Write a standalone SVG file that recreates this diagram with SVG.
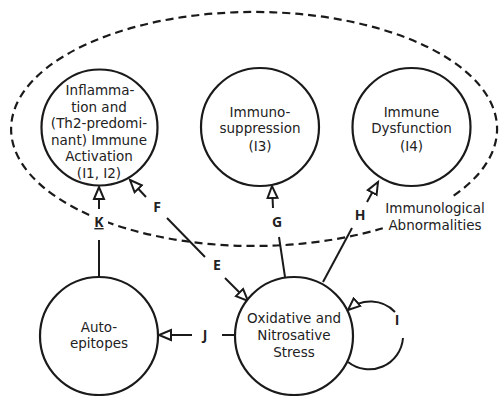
<svg xmlns="http://www.w3.org/2000/svg" width="499" height="396" viewBox="0 0 499 396">
<defs>
<marker id="tri" markerUnits="userSpaceOnUse" markerWidth="16" markerHeight="14" refX="13" refY="6" orient="auto" viewBox="0 0 16 12">
<path d="M1,1 L13,6 L1,11 Z" fill="#fff" stroke="#1a1a1a" stroke-width="2" stroke-linejoin="miter"/>
</marker>
<style>
.node{fill:#fff;stroke:#1a1a1a;stroke-width:2.2}
.t{font-family:"DejaVu Sans","Open Sans",sans-serif;font-size:13.5px;fill:#222;text-anchor:middle}
.lb{font-family:"Open Sans","Noto Sans",sans-serif;font-size:14px;font-weight:bold;fill:#222;text-anchor:middle}
.c{fill:none;stroke:#1a1a1a;stroke-width:2}
.a{fill:none;stroke:#1a1a1a;stroke-width:2;marker-end:url(#tri)}
.dash{fill:none;stroke:#1a1a1a;stroke-width:2.2;stroke-dasharray:8 5}
</style>
</defs>
<rect width="499" height="396" fill="#fff"/>
<g id="immunological-abnormalities">
<path class="dash" d="M382.8,228.2 A243,117 0 1 1 453.1,196.1"/>
<text class="t" x="435" y="213">Immunological</text>
<text class="t" x="435" y="229.5">Abnormalities</text>
</g>
<g id="connectors">
<line class="a" x1="99" y1="209" x2="99" y2="187"/>
<line class="c" x1="99" y1="240" x2="99" y2="277"/>
<rect x="90" y="212" width="18" height="19" fill="#fff"/>
<text class="lb" x="99" y="227" text-decoration="underline">K</text>
<line class="a" x1="146" y1="197" x2="130" y2="180"/>
<text class="lb" x="157" y="212">F</text>
<line class="c" x1="167" y1="218" x2="205" y2="257"/>
<text class="lb" x="217" y="270">E</text>
<line class="a" x1="225" y1="278" x2="248" y2="301"/>
<line class="a" x1="273" y1="208" x2="272" y2="186"/>
<text class="lb" x="277" y="227">G</text>
<line class="c" x1="279" y1="237" x2="285" y2="277"/>
<line class="a" x1="367" y1="202" x2="378" y2="182"/>
<text class="lb" x="360" y="220">H</text>
<line class="c" x1="352" y1="228" x2="323" y2="282"/>
<line class="a" x1="192" y1="335" x2="159" y2="335"/>
<text class="lb" x="205" y="340">J</text>
<line class="c" x1="222" y1="335" x2="236" y2="335"/>
<path class="c" d="M348,362 A34,34 0 0 0 403,338"/>
<path class="a" d="M395,312 A34,34 0 0 0 348,310"/>
<text class="lb" x="397" y="325">I</text>
</g>
<g id="inflammation">
<circle class="node" cx="99.5" cy="127.5" r="58"/>
<text class="t" x="100" y="95">Inflamma-</text>
<text class="t" x="99" y="111.5">tion and</text>
<text class="t" x="99" y="128">(Th2-predomi-</text>
<text class="t" x="99" y="144.5">nant) Immune</text>
<text class="t" x="99" y="161">Activation</text>
<text class="t" x="99" y="177.5">(I1, I2)</text>
</g>
<g id="immunosuppression">
<circle class="node" cx="260" cy="127" r="59"/>
<text class="t" x="260" y="117">Immuno-</text>
<text class="t" x="260" y="133">suppression</text>
<text class="t" x="260" y="150.5">(I3)</text>
</g>
<g id="immune-dysfunction">
<circle class="node" cx="411.5" cy="127" r="59"/>
<text class="t" x="411.5" y="117">Immune</text>
<text class="t" x="411.5" y="133">Dysfunction</text>
<text class="t" x="411.5" y="150.5">(I4)</text>
</g>
<g id="auto-epitopes">
<circle class="node" cx="99" cy="336" r="59"/>
<text class="t" x="99" y="331.5">Auto-</text>
<text class="t" x="99" y="348">epitopes</text>
</g>
<g id="oxidative-stress">
<circle class="node" cx="294" cy="336" r="59"/>
<text class="t" x="294" y="323">Oxidative and</text>
<text class="t" x="294" y="340">Nitrosative</text>
<text class="t" x="294" y="357">Stress</text>
</g>
</svg>
